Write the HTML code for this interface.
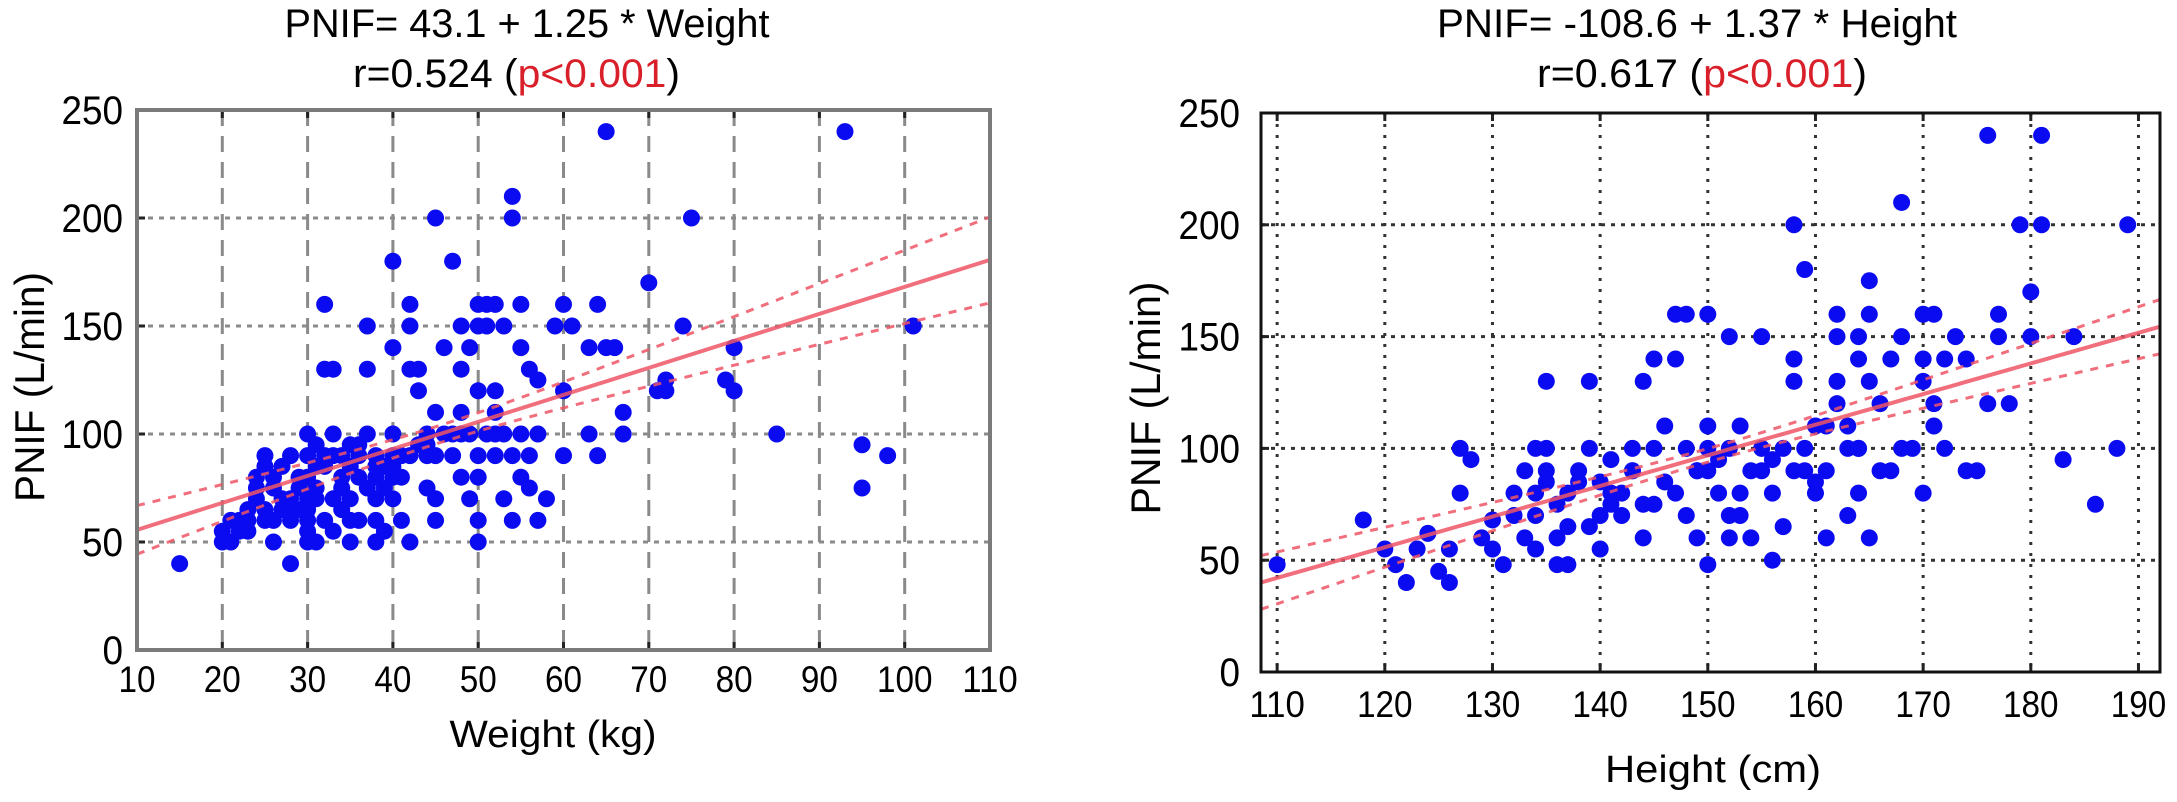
<!DOCTYPE html>
<html><head><meta charset="utf-8"><style>
html,body{margin:0;padding:0;background:#fff;}
svg{display:block;font-family:"Liberation Sans",sans-serif;}
</style></head><body>
<svg id="chart" width="2177" height="802" viewBox="0 0 2177 802" xmlns="http://www.w3.org/2000/svg">
<rect x="0" y="0" width="2177" height="802" fill="#fff"/>
<g id="left"></g>
<g id="right"></g>
</svg>
<script>
const weightX = [15,20,20,21,22,23,23,24,24,25,25,26,26,26,27,28,28,28,28,29,30,30,30,30,30,30,31,31,32,32,32,32,33,33,33,34,34,35,35,35,36,36,37,37,37,38,38,38,38,39,40,40,40,40,40,40,41,42,42,42,42,43,43,44,44,44,45,45,45,45,46,47,48,48,48,48,48,49,49,50,50,50,50,50,50,51,51,52,52,52,52,53,53,54,54,54,54,55,55,55,55,56,56,56,57,57,57,58,59,60,60,60,61,63,63,64,64,65,65,66,67,67,70,71,72,72,74,75,79,80,80,85,93,95,95,98,101,33,36,41,46,27,31,34,39,44,47,22,25,29,24,26,27,29,31,32,34,35,36,38,39,41,43,21,23,25,28,30,33,37,40,42,45,47,49,51,53,30,31,35,38,50,52];
const weightY = [40,50,55,60,60,65,55,70,80,85,90,75,60,50,85,40,90,60,70,80,50,60,70,80,90,100,95,75,160,130,85,60,130,100,55,90,75,50,70,85,60,95,130,150,100,60,70,80,90,55,140,180,100,90,80,70,60,50,150,160,130,130,120,90,100,75,200,110,70,60,140,180,150,130,110,100,80,140,70,160,150,120,90,80,60,160,150,160,120,110,100,150,70,200,210,90,60,160,140,100,80,130,90,75,125,100,60,70,150,160,120,90,150,140,100,160,90,240,140,140,110,100,170,120,120,125,150,200,125,120,140,100,240,75,95,90,150,90,80,90,100,65,70,65,85,95,100,55,65,75,75,80,70,65,85,90,80,95,90,85,75,80,95,50,60,60,65,65,70,75,85,90,90,90,100,100,100,55,50,60,50,50,90];
const heightX = [110,118,120,121,122,123,124,125,126,126,127,127,128,129,130,130,131,132,133,133,134,134,134,135,135,135,135,136,136,137,137,138,139,139,139,140,140,140,141,141,142,142,143,143,144,144,145,145,145,146,147,147,147,148,148,149,149,150,150,150,150,150,151,152,152,152,153,153,154,154,155,155,156,156,157,158,158,158,158,159,159,160,160,161,161,162,162,162,162,163,163,164,164,164,164,165,165,165,165,166,167,167,168,168,169,170,170,170,170,171,171,172,172,173,174,174,175,176,176,177,177,178,179,180,180,181,181,183,184,186,188,189,132,136,138,141,143,146,148,151,153,155,157,159,161,163,166,168,171,134,137,144,149,152,156,160,164];
const heightY = [48,68,55,48,40,55,62,45,40,55,80,100,95,60,55,68,48,80,90,60,100,70,55,130,85,90,100,60,48,80,48,85,130,100,65,85,70,55,95,75,70,80,90,100,130,60,75,100,140,110,160,140,80,160,70,90,60,90,100,110,160,48,80,150,60,100,110,70,90,60,150,100,80,50,65,200,140,130,90,180,100,110,80,60,90,150,160,130,120,110,70,150,140,100,80,160,175,130,60,120,90,140,150,210,100,160,140,130,80,160,120,140,100,150,140,90,90,240,120,160,150,120,200,170,150,240,200,95,150,75,100,200,70,75,90,80,90,85,100,95,80,90,100,90,110,100,90,100,110,80,65,75,90,70,95,85,100];
const weightTicks = [10,20,30,40,50,60,70,80,90,100,110];
const heightTicks = [110,120,130,140,150,160,170,180,190];
const pnifTicks = [0,50,100,150,200,250];
const NS='http://www.w3.org/2000/svg';
function mk(parent,tag,attrs){const e=document.createElementNS(NS,tag);for(const k in attrs)e.setAttribute(k,attrs[k]);parent.appendChild(e);return e;}
function txt(parent,x,y,s,fs,anchor,len,fill){const t=mk(parent,'text',{x:x,y:y,'font-size':fs,'text-anchor':anchor,fill:fill||'#000'});if(len){t.setAttribute('textLength',len);t.setAttribute('lengthAdjust','spacingAndGlyphs');}t.textContent=s;return t;}

function drawChart(g,cfg){
  const sx=v=>cfg.x0+(v-cfg.xmin)/(cfg.xmax-cfg.xmin)*(cfg.x1-cfg.x0);
  const sy=v=>cfg.yb+(v-0)/(250-0)*(cfg.yt-cfg.yb);
  cfg.xticks.forEach(v=>{
    const X=sx(v);
    const l=mk(g,'line',{x1:X,x2:X,y1:cfg.yt,y2:cfg.yb,stroke:cfg.gridCol,'stroke-width':3,'stroke-dasharray':cfg.vdash});
    
    
    const lab=txt(g,X,cfg.xlabY,String(v),37,'middle',String(v).length*18.5);
    
    
  });
  pnifTicks.forEach(v=>{
    const Y=sy(v);
    const l=mk(g,'line',{x1:cfg.x0,x2:cfg.x1,y1:Y,y2:Y,stroke:cfg.gridCol,'stroke-width':3,'stroke-dasharray':cfg.hdash});
    
    
    const lab=txt(g,cfg.ylabX,Y+14,String(v),40,'end',String(v).length*20.5);
    
    
  });
  const xs=cfg.xs, ys=cfg.ys;
  for(let i=0;i<xs.length;i++){
    const c=mk(g,'circle',{cx:sx(xs[i]),cy:sy(ys[i]),r:8.5,fill:'#0b0bf2'});
    
    
  }
  let p='',pu='',pl='';
  for(let k=0;k<=60;k++){
    const v=cfg.xmin+(cfg.xmax-cfg.xmin)*k/60;
    const yv=cfg.a+cfg.b*v;
    const h=Math.sqrt(cfg.ca*cfg.ca+cfg.cb*cfg.cb*(v-cfg.m)*(v-cfg.m));
    const cmd=k?'L':'M';
    p+=cmd+sx(v).toFixed(1)+','+sy(yv).toFixed(1);
    pu+=cmd+sx(v).toFixed(1)+','+sy(yv+h).toFixed(1);
    pl+=cmd+sx(v).toFixed(1)+','+sy(yv-h).toFixed(1);
  }
  const ln=mk(g,'path',{d:p,stroke:'#ee5566',fill:'none','stroke-width':4,opacity:0.85});
  
  
  const u=mk(g,'path',{d:pu,stroke:'#ee5566',fill:'none','stroke-width':3,'stroke-dasharray':'8 8',opacity:0.85});
  
  
  const lo=mk(g,'path',{d:pl,stroke:'#ee5566',fill:'none','stroke-width':3,'stroke-dasharray':'8 8',opacity:0.85});
  
  
  cfg.xticks.forEach(v=>{const X=sx(v);mk(g,'line',{x1:X,x2:X,y1:cfg.yb,y2:cfg.yb-8,stroke:'#222','stroke-width':3});mk(g,'line',{x1:X,x2:X,y1:cfg.yt,y2:cfg.yt+8,stroke:'#222','stroke-width':3});});
  pnifTicks.forEach(v=>{const Y=sy(v);mk(g,'line',{x1:cfg.x0,x2:cfg.x0+8,y1:Y,y2:Y,stroke:'#222','stroke-width':3});});
  const box=mk(g,'rect',{x:cfg.x0,y:cfg.yt,width:cfg.x1-cfg.x0,height:cfg.yb-cfg.yt,fill:'none',stroke:cfg.boxCol,'stroke-width':cfg.boxW});
  
  
}
const L=document.getElementById('left'), R=document.getElementById('right');
drawChart(L,{x0:137,x1:990,yt:110,yb:650,xmin:10,xmax:110,xticks:weightTicks,xs:weightX,ys:weightY,a:43.1,b:1.25,m:45,ca:4,cb:0.30,gridCol:'#8a8a8a',vdash:'16 10',hdash:'5 6',boxCol:'#7a7a7a',boxW:4,xlabY:692,ylabX:123});
drawChart(R,{x0:1261,x1:2160,yt:113,yb:672,xmin:108.5,xmax:192,xticks:heightTicks,xs:heightX,ys:heightY,a:-108.6,b:1.37,m:150,ca:3,cb:0.28,gridCol:'#333',vdash:'3 8',hdash:'4 6',boxCol:'#111',boxW:3,xlabY:717,ylabX:1240});

let t;
t=txt(L,527,37,'PNIF= 43.1 + 1.25 * Weight',40,'middle',485);
t=mk(L,'text',{x:353,y:87,'font-size':40,textLength:327,lengthAdjust:'spacingAndGlyphs'});t.innerHTML='r=0.524 (<tspan fill="#d9202a">p&lt;0.001</tspan>)';
t=txt(L,553,747,'Weight (kg)',38,'middle',207);
t=mk(L,'text',{x:0,y:0,'font-size':42,'text-anchor':'middle',transform:'translate(44,387) rotate(-90)',textLength:230,lengthAdjust:'spacingAndGlyphs'});t.textContent='PNIF (L/min)';

t=txt(R,1437,37,'PNIF= -108.6 + 1.37 * Height',40,'start',520);
t=mk(R,'text',{x:1537,y:87,'font-size':40,textLength:330,lengthAdjust:'spacingAndGlyphs'});t.innerHTML='r=0.617 (<tspan fill="#d9202a">p&lt;0.001</tspan>)';
t=txt(R,1713,782,'Height (cm)',38,'middle',216);
t=mk(R,'text',{x:0,y:0,'font-size':42,'text-anchor':'middle',transform:'translate(1160,398) rotate(-90)',textLength:233,lengthAdjust:'spacingAndGlyphs'});t.textContent='PNIF (L/min)';
</script>
</body></html>
